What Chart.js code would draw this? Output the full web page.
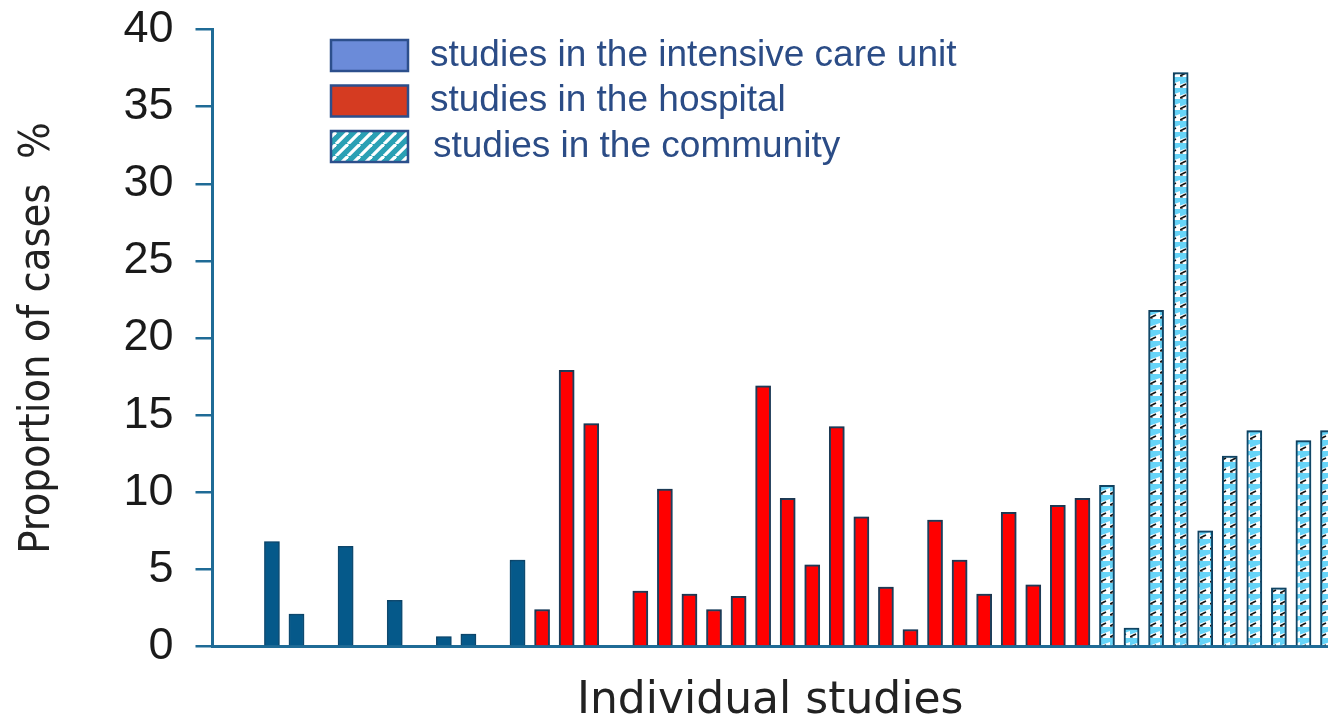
<!DOCTYPE html>
<html><head><meta charset="utf-8">
<script src="https://cdn.jsdelivr.net/npm/chart.js@4.4.1/dist/chart.umd.min.js"></script>
<style>html,body{margin:0;padding:0;background:#fff;overflow:hidden}#wrap{width:1328px;height:721px;position:relative}</style>
</head><body><div id="wrap"><canvas id="c"></canvas></div>
<script>
// ---- data ----
const seriesLabels = ['studies in the intensive care unit', 'studies in the hospital', 'studies in the community'];
const icuStudies = [0, 1, 3, 5, 7, 8, 10];
const icuValues = [6.8, 2.1, 6.5, 3.0, 0.65, 0.8, 5.6];
const hospitalStudies = [11, 12, 13, 15, 16, 17, 18, 19, 20, 21, 22, 23, 24, 25, 26, 27, 28, 29, 30, 31, 32, 33];
const hospitalValues = [2.4, 17.9, 14.45, 3.6, 10.2, 3.4, 2.4, 3.25, 16.9, 9.6, 5.3, 14.25, 8.4, 3.85, 1.1, 8.2, 5.6, 3.4, 8.7, 4.0, 9.15, 9.6];
const communityStudies = [34, 35, 36, 37, 38, 39, 40, 41, 42, 43];
const communityValues = [10.45, 1.2, 21.8, 37.2, 7.5, 12.35, 14.0, 3.8, 13.35, 14.0];
const yTicks = [0, 5, 10, 15, 20, 25, 30, 35, 40];
const xTitle = 'Individual studies';
const yTitle = 'Proportion of cases  %';

// ---- styling helpers ----
function barHatch() {
  const c = document.createElement('canvas'); c.width = 10; c.height = 11;
  const g = c.getContext('2d');
  g.fillStyle = '#ffffff'; g.fillRect(0, 0, 10, 11);
  g.fillStyle = '#66d4f8';
  g.beginPath(); g.moveTo(0, 0); g.lineTo(10, 0); g.lineTo(10, 4); g.lineTo(0, 7.5); g.closePath(); g.fill();
  g.strokeStyle = '#151515'; g.lineWidth = 1.8;
  g.beginPath(); g.moveTo(0, 10); g.lineTo(6, 7); g.stroke();
  g.strokeStyle = '#666'; g.lineWidth = 1;
  g.beginPath(); g.moveTo(0, 11); g.lineTo(3, 10); g.stroke();
  return g.createPattern(c, 'repeat');
}
function legendHatch() {
  const c = document.createElement('canvas'); c.width = 12; c.height = 12;
  const g = c.getContext('2d');
  g.fillStyle = '#2aa0b4'; g.fillRect(0, 0, 12, 12);
  g.strokeStyle = '#ffffff'; g.lineWidth = 3.2;
  for (const k of [-12, 0, 12]) { g.beginPath(); g.moveTo(k, 12); g.lineTo(k + 12, 0); g.stroke(); }
  return g.createPattern(c, 'repeat');
}
const pts = (xs, ys) => xs.map((x, i) => ({x: x, y: ys[i]}));
const axisBlue = '#1f6b96';

const legendPlugin = {
  id: 'boxLegend',
  afterDraw(chart) {
    const ctx = chart.ctx;
    const rows = [40, 85.5, 131];
    const textX = [430, 430, 433];
    ctx.save();
    chart.data.datasets.forEach((ds, i) => {
      const y = rows[i];
      ctx.fillStyle = ds.legendFill;
      ctx.fillRect(331, y, 77, 31);
      ctx.lineWidth = 2.5; ctx.strokeStyle = '#2c4f8c';
      ctx.strokeRect(331, y, 77, 31);
      ctx.fillStyle = '#2b4c86';
      ctx.font = '37px "Liberation Sans", Arial, sans-serif';
      ctx.textBaseline = 'middle';
      ctx.textAlign = 'left';
      ctx.fillText(ds.label, textX[i], y + 15.5);
    });
    ctx.restore();
  }
};
const glowPlugin = {
  id: 'glow',
  beforeDatasetsDraw(chart) { const c = chart.ctx; c.save(); c.shadowColor = 'rgba(40,130,185,0.5)'; c.shadowBlur = 6; },
  afterDatasetsDraw(chart) { chart.ctx.restore(); }
};

new Chart(document.getElementById('c'), {
  type: 'bar',
  data: {
    datasets: [
      {label: seriesLabels[0], data: pts(icuStudies, icuValues), backgroundColor: '#05598a', borderColor: '#0a3d5e', borderWidth: 1.5, barThickness: 15, grouped: false, legendFill: '#6b8bd9'},
      {label: seriesLabels[1], data: pts(hospitalStudies, hospitalValues), backgroundColor: '#ff0000', borderColor: '#1d2f45', borderWidth: 2, barThickness: 15, grouped: false, legendFill: '#d53b21'},
      {label: seriesLabels[2], data: pts(communityStudies, communityValues), backgroundColor: barHatch(), borderColor: '#0d3a55', borderWidth: 2, barThickness: 15, grouped: false, legendFill: legendHatch()}
    ]
  },
  options: {
    responsive: true, maintainAspectRatio: false, animation: false,
    layout: {padding: {top: 29.5, left: 0, right: 0, bottom: 0}},
    plugins: {legend: {display: false}, tooltip: {enabled: false}},
    scales: {
      x: {
        type: 'linear', min: -2.42, max: 43.0, offset: false, z: 1,
        ticks: {display: false},
        grid: {display: false, drawTicks: false},
        border: {display: true, color: axisBlue, width: 3},
        title: {display: true, text: xTitle, color: '#222', font: {family: '"DejaVu Sans", sans-serif', size: 44, lineHeight: 0.9}, padding: {top: 0, bottom: 0}},
        afterFit: s => { s.height = 74.5; s.paddingLeft = 0; s.paddingRight = 0; }
      },
      y: {
        min: 0, max: 40,
        afterBuildTicks: s => { s.ticks = yTicks.map(v => ({value: v})); },
        ticks: {color: '#1a1a1a', font: {family: '"Liberation Sans", Arial, sans-serif', size: 45}, padding: 22},
        grid: {display: true, drawOnChartArea: false, drawTicks: true, tickLength: 17, color: axisBlue, lineWidth: 2.5},
        border: {display: true, color: axisBlue, width: 3},
        title: {display: true, text: yTitle, color: '#222', font: {family: '"Liberation Sans Narrow", "DejaVu Sans Condensed", "Liberation Sans", sans-serif', size: 43}, padding: {top: 12, bottom: 0}},
        afterFit: s => { s.width = 212.5; s.paddingTop = 0; s.paddingBottom = 0; }
      }
    }
  },
  plugins: [legendPlugin, glowPlugin]
});
</script>
</body></html>
